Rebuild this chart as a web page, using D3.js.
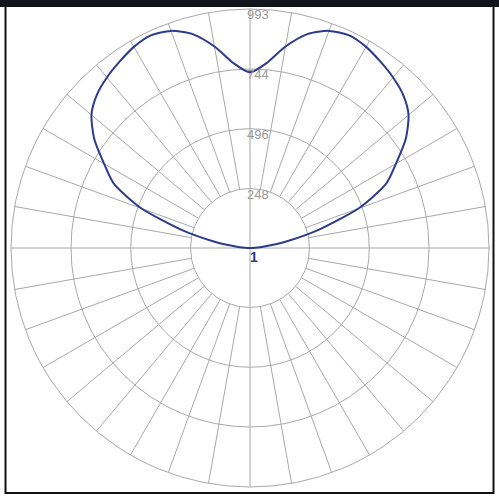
<!DOCTYPE html>
<html><head><meta charset="utf-8">
<script src="https://cdn.jsdelivr.net/npm/d3@7"></script>
<style>body{margin:0;background:#fff}</style>
</head><body><svg width="499" height="502"></svg>
<script>
// polar intensity, angle in degrees clockwise from top (right half, mirrored)
const angles = [0,5,10,15,20,25,30,35,40,45,50,55,60,65,70,75,80,85,90];
const values = [730,770,850,920,960,975,965,945,925,900,860,790,700,620,480,300,150,50,5];
const ringLabels = ["1","248","496","744","993"];
const ringValues = [1,248,496,744,993];

const svg = d3.select("svg");
const cx = 250, cy = 248, R = 239;
svg.append("rect").attr("x",0).attr("y",0).attr("width",499).attr("height",7).attr("fill","#14141e");
svg.append("rect").attr("x",5.5).attr("y",6).attr("width",488).attr("height",487)
  .attr("fill","none").attr("stroke","#111").attr("stroke-width",2);

const r = d3.scaleLinear().domain([1,993]).range([0,R]);
const g = svg.append("g").attr("transform",`translate(${cx},${cy})`);
const grid = "#a8a8a8";

ringValues.slice(1).forEach(v=>{
  g.append("circle").attr("r",r(v)).attr("fill","none").attr("stroke",grid).attr("stroke-width",1);
});
d3.range(0,360,10).forEach(a=>{
  const t = a*Math.PI/180;
  const r0 = (a%90===0) ? 0 : r(248);
  g.append("line").attr("x1",r0*Math.sin(t)).attr("y1",-r0*Math.cos(t))
    .attr("x2",R*Math.sin(t)).attr("y2",-R*Math.cos(t)).attr("stroke",grid);
});

// full curve
const pts = [];
angles.forEach((a,i)=>pts.push([a,values[i]]));
for(let a=100;a<=260;a+=10) pts.push([a,1]);
for(let i=angles.length-1;i>0;i--) pts.push([360-angles[i],values[i]]);
const line = d3.lineRadial().angle(d=>d[0]*Math.PI/180).radius(d=>r(d[1])).curve(d3.curveCardinalClosed.tension(0.3));
g.append("path").datum(pts).attr("d",line).attr("fill","none").attr("stroke","#2c3a8c").attr("stroke-width",2);

ringLabels.forEach((l,i)=>{
  g.append("text").attr("x",i===0?0:-3).attr("y",i===0?14:-r(ringValues[i])+10)
    .attr("font-family","Liberation Sans, Arial").attr("font-size",i===0?14:13)
    .attr("font-weight",i===0?"bold":"normal")
    .attr("fill",i===0?"#2c3a8c":"#999").text(l);
});
</script></body></html>
